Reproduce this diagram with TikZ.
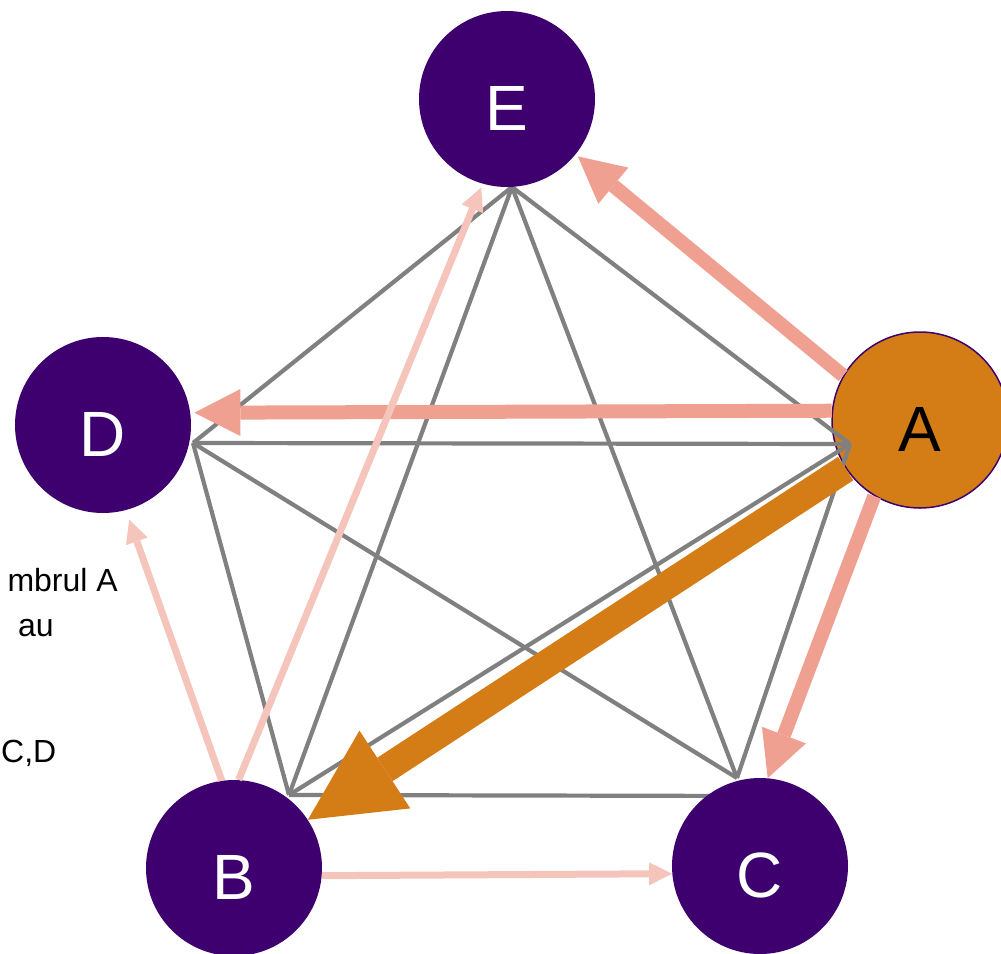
\documentclass[tikz,border=0pt]{standalone}
\usepackage{fontspec}
\setmainfont{Liberation Sans}
\usetikzlibrary{arrows.meta, positioning}

\definecolor{vpurple}{RGB}{61,0,110}
\definecolor{aorange}{RGB}{212,125,23}
\definecolor{salmon}{RGB}{240,160,145}
\definecolor{lightpink}{RGB}{245,196,187}
\definecolor{edgegray}{RGB}{128,128,128}

\begin{document}
\begin{tikzpicture}[x=1pt,y=-1pt,
		vertex/.style={circle,fill=vpurple,inner sep=0pt,minimum size=176pt,
			text=white,text height=62pt,text depth=0pt,font=\fontsize{64}{64}\selectfont},
		edge/.style={draw=edgegray,line width=4.2pt},
		heavy/.style={draw=salmon,line width=14pt,-{Triangle[length=46pt,width=47pt,line width=0pt]}},
		light/.style={draw=lightpink,line width=7pt,-{Triangle[length=23pt,width=23pt,line width=0pt]}},
		main/.style={draw=aorange,line width=28pt,-{Triangle[length=92pt,width=93pt,line width=0pt]}},
		note/.style={inner sep=0pt,font=\fontsize{32}{32}\selectfont}]
	\useasboundingbox (0,0) rectangle (1001,953);
	\node[vertex,fill=aorange,draw=vpurple,line width=1.5pt,text=black] (a) at (920,420) {A};
	\coordinate (pa) at (850,444);
	\coordinate (pb) at (289,795);
	\coordinate (pc) at (737,778);
	\coordinate (pd) at (193,443);
	\coordinate (pe) at (512,187);
	\coordinate (pcb) at (760,796);
	\draw[edge] (pe) -- (pd);
	\draw[edge] (pe) -- (pb);
	\draw[edge] (pe) -- (pc);
	\draw[edge] (pe) -- (pa);
	\draw[edge] (pd) -- (pa);
	\draw[edge] (pd) -- (pb);
	\draw[edge] (pd) -- (pc);
	\draw[edge] (pa) -- (pb);
	\draw[edge] (pa) -- (pc);
	\draw[edge] (pb) -- (pcb);
	\node[vertex] (e) at (507,99) {E};
	\node[vertex] (d) at (103,425) {D};
	\node[vertex] (b) at (234,868) {B};
	\node[vertex] (c) at (760,866) {C};
	\draw[heavy,shorten >=3pt] (a.150) -- (e.-39);
	\draw[heavy,shorten >=4pt] (a.174) -- (d.8);
	\draw[heavy] (a.239) -- (c.85);
	\draw[main] (a) -- (b);
	\draw[light,shorten >=4pt] (b.87) -- (e.254);
	\draw[light,shorten >=10pt] (b.98) -- (d.285);
	\draw[light] (b.-5) -- (c.185);
	\node[note,anchor=base east] (t1) at (118,591) {mbrul A};
	\node[note,anchor=base east] (t2) at (54,636) {au};
	\node[note,anchor=base west] (t3) at (1,762) {C,D};
\end{tikzpicture}
\end{document}
